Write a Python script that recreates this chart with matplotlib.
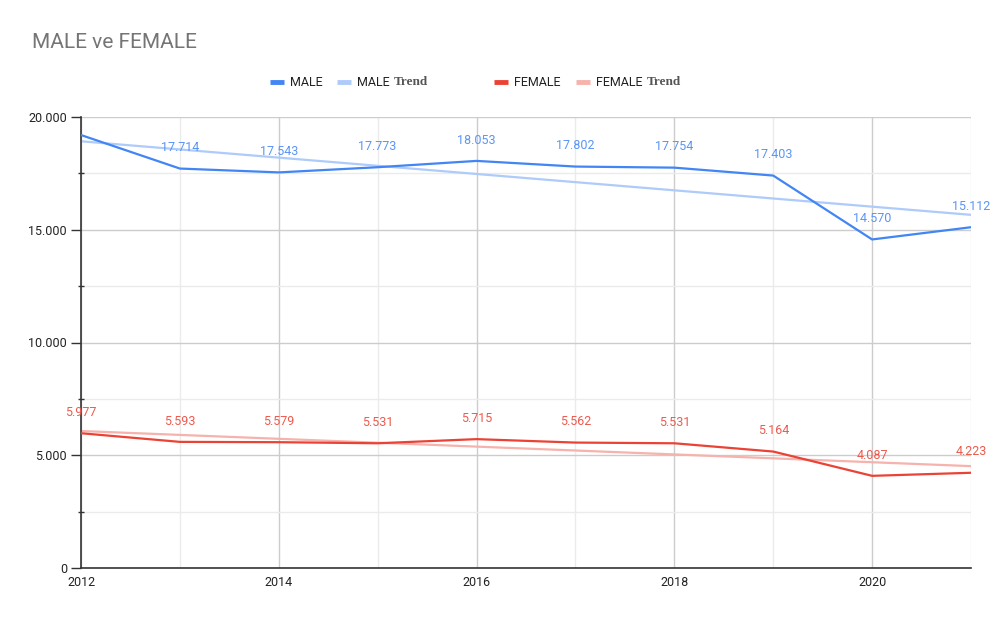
import numpy as np
import matplotlib
matplotlib.use("Agg")
import matplotlib.pyplot as plt
from matplotlib.ticker import MultipleLocator, FuncFormatter
from matplotlib.lines import Line2D

years = [2012, 2013, 2014, 2015, 2016, 2017, 2018, 2019, 2020, 2021]
male = [19200, 17714, 17543, 17773, 18053, 17802, 17754, 17403, 14570, 15112]
female = [5977, 5593, 5579, 5531, 5715, 5562, 5531, 5164, 4087, 4223]
male_labels = ["", "17.714", "17.543", "17.773", "18.053", "17.802", "17.754", "17.403", "14.570", "15.112"]
female_labels = ["5.977", "5.593", "5.579", "5.531", "5.715", "5.562", "5.531", "5.164", "4.087", "4.223"]

C_MALE = "#4285F4"
C_MALE_T = "#AECBFA"
C_FEM = "#EA4335"
C_FEM_T = "#F6B2AC"

plt.rcParams['font.family'] = ['Roboto', 'DejaVu Sans']

fig = plt.figure(figsize=(10.02, 6.19), dpi=100)
ax = fig.add_axes([81/1002, 1-568/619, (971-81)/1002, (568-117)/619])

x = np.array(years, dtype=float)
mc = np.polyfit(x, male, 1)
fc = np.polyfit(x, female, 1)

ax.plot(x, np.polyval(mc, x), color=C_MALE_T, lw=1.6, zorder=2, solid_capstyle='butt')
ax.plot(x, np.polyval(fc, x), color=C_FEM_T, lw=1.6, zorder=2, solid_capstyle='butt')
ax.plot(x, male, color=C_MALE, lw=1.6, zorder=3)
ax.plot(x, female, color=C_FEM, lw=1.6, zorder=3)

for xi, yi, lab in zip(years, male, male_labels):
    if lab:
        ax.annotate(lab, (xi, yi), xytext=(0, 15), textcoords='offset points',
                    ha='center', va='center', color="#5A95F5", fontsize=9,
                    annotation_clip=False, zorder=4)
for xi, yi, lab in zip(years, female, female_labels):
    if lab:
        ax.annotate(lab, (xi, yi), xytext=(0, 15), textcoords='offset points',
                    ha='center', va='center', color="#EC5A4D", fontsize=9,
                    annotation_clip=False, zorder=4)

ax.set_xlim(2012, 2021)
ax.set_ylim(0, 20000)
ax.yaxis.set_major_locator(MultipleLocator(5000))
ax.yaxis.set_minor_locator(MultipleLocator(2500))
ax.xaxis.set_major_locator(MultipleLocator(2))
ax.xaxis.set_minor_locator(MultipleLocator(1))
ax.yaxis.set_major_formatter(FuncFormatter(lambda v, p: f"{int(v):,}".replace(",", ".")))
ax.xaxis.set_major_formatter(FuncFormatter(lambda v, p: f"{int(v)}"))

ax.grid(which='major', color="#CCCCCC", lw=1.0, zorder=0)
ax.grid(which='minor', color="#EBEBEB", lw=1.0, zorder=0)
ax.set_axisbelow(True)

for s in ['top', 'right']:
    ax.spines[s].set_visible(False)
for s in ['left', 'bottom']:
    ax.spines[s].set_color("#333333")
    ax.spines[s].set_linewidth(1.2)

ax.tick_params(axis='y', which='major', direction='out', length=7, width=1, color="#333333",
               labelsize=9, labelcolor="#222222", pad=3)
ax.tick_params(axis='y', which='minor', direction='inout', length=5, width=1, color="#333333")
ax.tick_params(axis='x', which='both', length=0, labelsize=9, labelcolor="#222222", pad=6)

fig.text(32/1002, 1-43/619, "MALE ve FEMALE", fontsize=15, color="#757575", va='center', ha='left')

# legend
ly = 1 - 82/619
items = [
    (270, C_MALE, 290, "MALE", None),
    (337, C_MALE_T, 357, "MALE", "Trend"),
    (494, C_FEM, 514, "FEMALE", None),
    (576, C_FEM_T, 596, "FEMALE", "Trend"),
]
for sx, col, tx, t1, t2 in items:
    fig.add_artist(Line2D([sx/1002, (sx+14)/1002], [ly, ly], color=col, lw=3.5,
                          solid_capstyle='butt', transform=fig.transFigure))
    t = fig.text(tx/1002, ly, t1, fontsize=9, color="#222222", va='center', ha='left')
    if t2:
        fig.canvas.draw()
        bb = t.get_window_extent()
        fig.text((bb.x1 + 4)/1002, ly, t2, fontsize=9.5, color="#555555", va='center', ha='left',
                 family='Liberation Serif', weight='bold')

fig.savefig("out.png", dpi=100)
